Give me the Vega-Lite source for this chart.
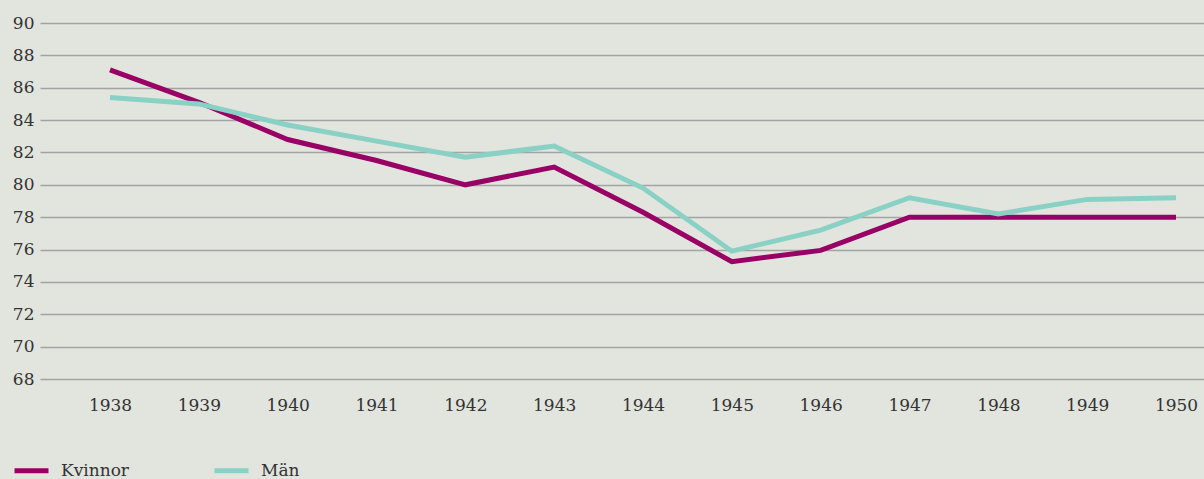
{
  "$schema": "https://vega.github.io/schema/vega-lite/v6.json",
  "autosize": {"type": "none"},
  "width": 1164,
  "height": 356,
  "padding": {"left": 40, "top": 23, "right": 0, "bottom": 100},
  "background": "#e2e4de",
  "config": {
    "view": {"stroke": null},
    "font": "DejaVu Serif"
  },
  "data": {
    "values": [
      {"year": 1938, "group": "Kvinnor", "value": 87.1},
      {"year": 1939, "group": "Kvinnor", "value": 85.1},
      {"year": 1940, "group": "Kvinnor", "value": 82.8},
      {"year": 1941, "group": "Kvinnor", "value": 81.5},
      {"year": 1942, "group": "Kvinnor", "value": 80.0},
      {"year": 1943, "group": "Kvinnor", "value": 81.1},
      {"year": 1944, "group": "Kvinnor", "value": 78.3},
      {"year": 1945, "group": "Kvinnor", "value": 75.25},
      {"year": 1946, "group": "Kvinnor", "value": 75.95},
      {"year": 1947, "group": "Kvinnor", "value": 78.0},
      {"year": 1948, "group": "Kvinnor", "value": 78.0},
      {"year": 1949, "group": "Kvinnor", "value": 78.0},
      {"year": 1950, "group": "Kvinnor", "value": 78.0},
      {"year": 1938, "group": "Män", "value": 85.4},
      {"year": 1939, "group": "Män", "value": 85.0},
      {"year": 1940, "group": "Män", "value": 83.7},
      {"year": 1941, "group": "Män", "value": 82.7},
      {"year": 1942, "group": "Män", "value": 81.7},
      {"year": 1943, "group": "Män", "value": 82.4},
      {"year": 1944, "group": "Män", "value": 79.8},
      {"year": 1945, "group": "Män", "value": 75.9},
      {"year": 1946, "group": "Män", "value": 77.2},
      {"year": 1947, "group": "Män", "value": 79.2},
      {"year": 1948, "group": "Män", "value": 78.2},
      {"year": 1949, "group": "Män", "value": 79.1},
      {"year": 1950, "group": "Män", "value": 79.2}
    ]
  },
  "mark": {"type": "line", "strokeWidth": 5, "strokeJoin": "miter", "strokeCap": "butt"},
  "encoding": {
    "x": {
      "field": "year",
      "type": "quantitative",
      "scale": {"domain": [1937.212, 1950.315], "nice": false, "zero": false},
      "axis": {
        "title": null,
        "values": [1938, 1939, 1940, 1941, 1942, 1943, 1944, 1945, 1946, 1947, 1948, 1949, 1950],
        "format": "d",
        "grid": false,
        "domain": false,
        "ticks": false,
        "labelPadding": 18,
        "labelFontSize": 17,
        "labelColor": "#333333",
        "labelFont": "DejaVu Serif"
      }
    },
    "y": {
      "field": "value",
      "type": "quantitative",
      "scale": {"domain": [68, 90], "nice": false, "zero": false},
      "axis": {
        "title": null,
        "values": [68, 70, 72, 74, 76, 78, 80, 82, 84, 86, 88, 90],
        "grid": true,
        "gridColor": "#a3a3a3",
        "gridWidth": 1.5,
        "domain": false,
        "ticks": false,
        "labelPadding": 6,
        "labelFontSize": 17,
        "labelColor": "#333333",
        "labelFont": "DejaVu Serif"
      }
    },
    "color": {
      "field": "group",
      "type": "nominal",
      "scale": {"domain": ["Kvinnor", "Män"], "range": ["#990066", "#88d1c4"]},
      "legend": {
        "title": null,
        "orient": "none",
        "direction": "horizontal",
        "columns": 2,
        "legendX": -28,
        "legendY": 428,
        "symbolType": "stroke",
        "symbolSize": 1156,
        "symbolStrokeWidth": 5,
        "labelOffset": 10,
        "labelFontSize": 17,
        "labelColor": "#333333",
        "labelFont": "DejaVu Serif",
        "columnPadding": 75
      }
    }
  }
}
